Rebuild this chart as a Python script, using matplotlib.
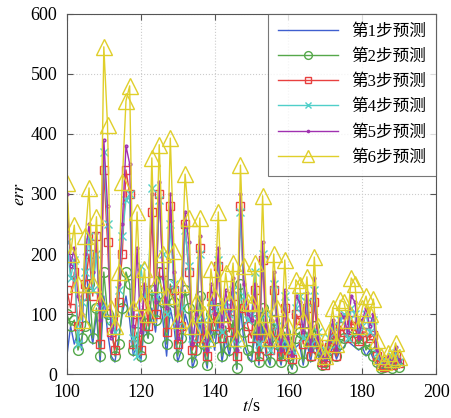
import matplotlib.pyplot as plt

plt.rcParams['font.family'] = ['Liberation Serif', 'Noto Sans CJK SC']
plt.rcParams['mathtext.fontset'] = 'stix'

t = list(range(100, 191))

step1 = [30, 80, 50, 70, 40, 230, 90, 50, 100, 20, 130, 70, 30, 20, 60, 100, 130, 90, 30, 50,
         20, 80, 60, 110, 70, 130, 90, 30, 110, 80, 20, 40, 100, 80, 10, 30, 90, 40, 10, 80,
         40, 90, 20, 60, 30, 70, 8, 110, 50, 30, 20, 70, 15, 80, 30, 15, 70, 40, 15, 55,
         20, 8, 45, 50, 15, 55, 20, 60, 30, 10, 15, 30, 45, 25, 40, 45, 55, 50, 45, 40,
         45, 30, 40, 25, 15, 8, 10, 12, 8, 15, 10]
step2 = [100, 80, 90, 40, 60, 80, 150, 60, 110, 30, 170, 100, 90, 30, 50, 110, 170, 150, 40, 70,
         30, 100, 60, 140, 90, 170, 120, 50, 150, 120, 30, 60, 140, 110, 20, 40, 130, 50, 15, 100,
         60, 110, 30, 80, 40, 90, 10, 150, 70, 40, 30, 90, 20, 110, 40, 20, 90, 50, 20, 70,
         30, 10, 60, 70, 20, 70, 30, 80, 40, 15, 20, 40, 60, 30, 50, 60, 70, 70, 60, 50,
         60, 40, 50, 30, 20, 10, 12, 15, 10, 20, 12]
step3 = [140, 110, 170, 80, 130, 150, 200, 130, 230, 50, 340, 220, 70, 40, 120, 200, 340, 300, 50, 100,
         40, 140, 80, 270, 100, 300, 170, 70, 280, 140, 50, 80, 250, 170, 40, 60, 210, 60, 30, 130,
         80, 180, 60, 110, 70, 130, 30, 280, 110, 80, 60, 140, 30, 190, 60, 40, 140, 70, 30, 110,
         40, 25, 100, 90, 50, 110, 30, 120, 50, 20, 15, 45, 70, 30, 80, 70, 60, 90, 80, 55,
         70, 70, 60, 65, 30, 15, 12, 22, 15, 30, 18]
step4 = [220, 160, 190, 50, 120, 170, 230, 140, 200, 110, 370, 250, 90, 70, 140, 230, 290, 300, 60, 30,
         180, 130, 140, 310, 130, 290, 200, 100, 250, 150, 80, 110, 240, 180, 60, 90, 200, 90, 50, 120,
         110, 190, 70, 120, 100, 140, 50, 270, 130, 90, 100, 170, 50, 200, 100, 40, 150, 80, 50, 130,
         50, 40, 110, 130, 60, 120, 50, 140, 70, 30, 40, 60, 80, 50, 90, 100, 60, 110, 100, 70,
         80, 100, 70, 90, 35, 20, 25, 20, 30, 35, 20]
step5 = [300, 180, 210, 130, 100, 200, 250, 170, 235, 90, 390, 280, 60, 90, 150, 250, 380, 350, 80, 210,
         70, 150, 120, 300, 120, 320, 160, 110, 300, 170, 60, 130, 270, 220, 50, 100, 230, 80, 40, 150,
         100, 210, 80, 140, 90, 160, 40, 300, 150, 100, 90, 150, 60, 220, 80, 50, 170, 90, 40, 140,
         60, 30, 130, 120, 70, 135, 40, 160, 60, 30, 25, 55, 90, 40, 100, 95, 70, 130, 120, 60,
         90, 110, 80, 100, 40, 25, 18, 30, 20, 45, 22]
step6 = [318, 200, 248, 150, 90, 230, 310, 150, 262, 120, 545, 415, 110, 80, 170, 320, 455, 480, 110, 270,
         120, 175, 100, 360, 150, 382, 200, 130, 393, 205, 90, 150, 333, 260, 80, 120, 260, 100, 60, 175,
         128, 270, 100, 168, 122, 185, 60, 348, 180, 120, 118, 185, 80, 297, 100, 60, 200, 110, 60, 190,
         80, 40, 157, 148, 90, 162, 60, 195, 80, 40, 30, 70, 110, 50, 123, 120, 90, 160, 150, 80,
         110, 130, 100, 125, 57, 30, 20, 35, 25, 52, 28]

labels = ['第1步预测', '第2步预测', '第3步预测', '第4步预测', '第5步预测', '第6步预测']
series = [step1, step2, step3, step4, step5, step6]
colors = ['#3f5fcf', '#55a84a', '#e8403f', '#4fcfc9', '#a030b0', '#e0cf2a']
markers = ['', 'o', 's', 'x', '.', '^']
msizes = [0, 7, 6, 6, 4, 11]

fig, ax = plt.subplots(figsize=(4.52, 4.18), dpi=100)
fig.subplots_adjust(left=0.148, right=0.965, top=0.967, bottom=0.105)

for ys, lab, c, m, ms in zip(series, labels, colors, markers, msizes):
    ax.plot(t, ys, color=c, marker=m if m else None, markersize=ms, markerfacecolor='none',
            markeredgecolor=c, markeredgewidth=1.0, linewidth=1.0, label=lab)

ax.set_xlim(100, 200)
ax.set_ylim(0, 600)
ax.set_xticks([100, 120, 140, 160, 180, 200])
ax.set_yticks([0, 100, 200, 300, 400, 500, 600])
ax.tick_params(direction='in', top=True, right=True, labelsize=13, length=4, color='#555555', pad=7)
ax.grid(True, linestyle=':', color='#cccccc', linewidth=0.8)
for sp in ax.spines.values():
    sp.set_color('#555555')

ax.set_xlabel('$t$/s', fontsize=13, labelpad=-2)
ax.set_ylabel('$err$', fontsize=13, labelpad=2)

leg = ax.legend(loc='upper right', fontsize=12, handlelength=3.6, frameon=True, fancybox=False,
                edgecolor='#555555', borderaxespad=0, labelspacing=0.55, numpoints=1,
                borderpad=0.6, markerscale=0.8)
leg.get_frame().set_linewidth(0.8)

plt.savefig('out.png', dpi=100)
